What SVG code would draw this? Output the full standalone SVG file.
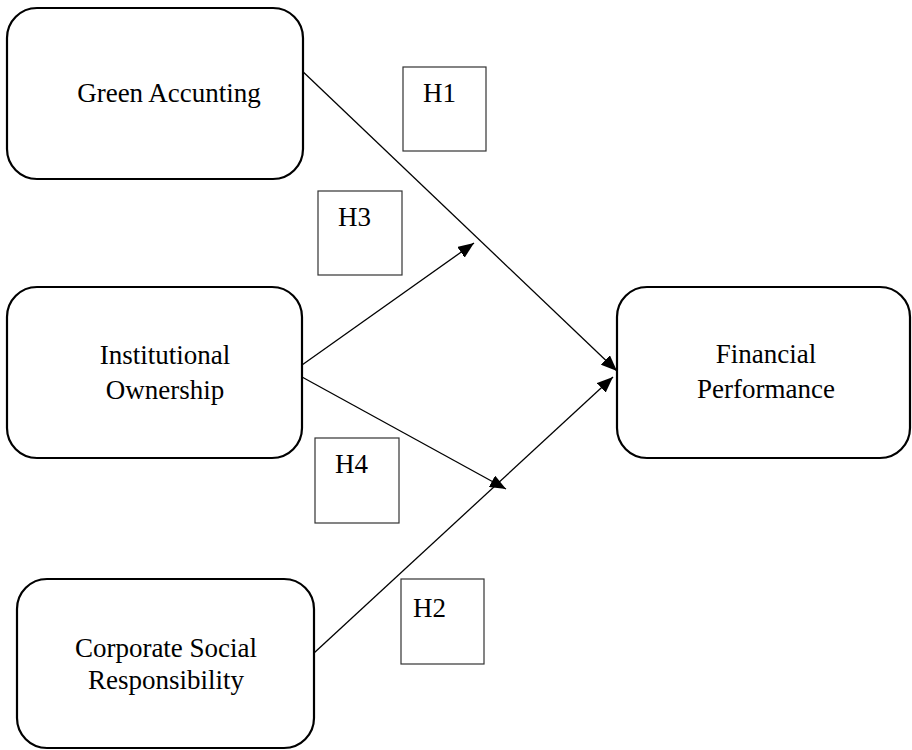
<svg xmlns="http://www.w3.org/2000/svg" width="912" height="750" viewBox="0 0 912 750">
<style>
.node{fill:#fff;stroke:#000;stroke-width:2.2}
.hbox{fill:#fff;stroke:#333;stroke-width:1.2}
.t{font-family:"Liberation Serif","Times New Roman",serif;font-size:27px;fill:#000}
.c{text-anchor:middle}
.ln{stroke:#000;stroke-width:1.3;fill:none;marker-end:url(#ah)}
</style>
<defs>
<marker id="ah" viewBox="0 0 16 13" refX="16" refY="6.5" markerWidth="16" markerHeight="13" markerUnits="userSpaceOnUse" orient="auto">
<path d="M0,0 L16,6.5 L0,13 Z" fill="#000"/>
</marker>
</defs>
<rect width="912" height="750" fill="#fff"/>
<g id="connectors">
<line class="ln" x1="298" y1="67" x2="617" y2="371"/>
<line class="ln" x1="302" y1="365" x2="474" y2="243"/>
<line class="ln" x1="302" y1="377" x2="506" y2="489"/>
<line class="ln" x1="314" y1="653" x2="613" y2="377"/>
</g>
<g id="green-accounting">
<rect class="node" x="7" y="8" width="296" height="171" rx="30" ry="30"/>
<text class="t c" x="169" y="102">Green Accunting</text>
</g>
<g id="institutional-ownership">
<rect class="node" x="7" y="287" width="295" height="171" rx="30" ry="30"/>
<text class="t c" x="165" y="364">Institutional</text>
<text class="t c" x="165" y="399">Ownership</text>
</g>
<g id="corporate-social-responsibility">
<rect class="node" x="17" y="579" width="297" height="169" rx="30" ry="30"/>
<text class="t c" x="166" y="657">Corporate Social</text>
<text class="t c" x="166" y="689">Responsibility</text>
</g>
<g id="financial-performance">
<rect class="node" x="617" y="287" width="293" height="171" rx="30" ry="30"/>
<text class="t c" x="766" y="363">Financial</text>
<text class="t c" x="766" y="398">Performance</text>
</g>
<g id="h1">
<rect class="hbox" x="403" y="67" width="83" height="84"/>
<text class="t" x="423" y="102">H1</text>
</g>
<g id="h3">
<rect class="hbox" x="318" y="191" width="84" height="84"/>
<text class="t" x="338" y="226">H3</text>
</g>
<g id="h4">
<rect class="hbox" x="315" y="438" width="84" height="85"/>
<text class="t" x="335" y="473">H4</text>
</g>
<g id="h2">
<rect class="hbox" x="401" y="579" width="83" height="85"/>
<text class="t" x="413" y="617">H2</text>
</g>
</svg>
